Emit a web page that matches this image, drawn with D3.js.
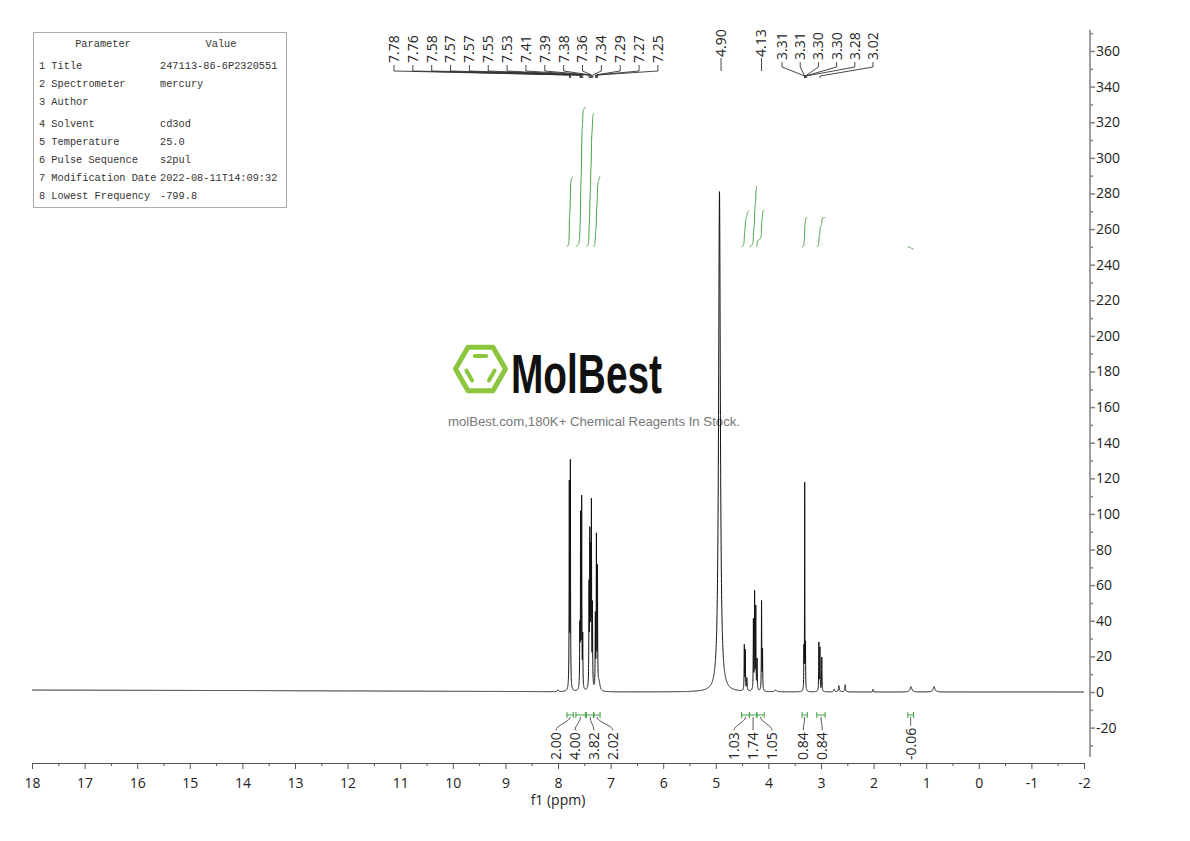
<!DOCTYPE html>
<html><head><meta charset="utf-8">
<script src="https://cdn.jsdelivr.net/npm/d3@7"></script>
<style>body{margin:0;background:#fff}svg{display:block}</style>
</head><body><svg id="c" width="1190" height="841"></svg>
<script>
// ---------------- data ----------------
const paramNames = ["1 Title","2 Spectrometer","3 Author","4 Solvent","5 Temperature","6 Pulse Sequence","7 Modification Date","8 Lowest Frequency"];
const paramValues = ["247113-86-6P2320551","mercury","","cd3od","25.0","s2pul","2022-08-11T14:09:32","-799.8"];

const peakPpm       = [8.00, 7.785, 7.765, 7.585, 7.570, 7.550, 7.530, 7.410, 7.395, 7.380, 7.365, 7.345, 7.290, 7.270, 7.250, 7.22, 4.93, 4.458, 4.440, 4.410, 4.285, 4.262, 4.240, 4.215, 4.130, 4.112, 3.86, 3.325, 3.310, 3.295, 3.040, 3.020, 2.985, 2.75, 2.66, 2.54, 2.01, 1.29, 0.85];
const peakHeight    = [1.0,  114,   126,   32,    95,    105,   28,    55,    82,    70,    100,   45,    40,    84,    66,    5,    281,  25,    22,    7,     39,    54,    46,    17,    50,    22,    1.0,  22,    116,   24,    27,    24,    19,    1.5,  3.5,  4,    1.5,  3,    3];
const peakHalfWidth = [0.01, 0.004, 0.004, 0.004, 0.004, 0.004, 0.004, 0.004, 0.004, 0.004, 0.004, 0.004, 0.004, 0.004, 0.004, 0.02, 0.02, 0.004, 0.004, 0.006, 0.004, 0.004, 0.004, 0.004, 0.004, 0.004, 0.02, 0.003, 0.003, 0.003, 0.004, 0.004, 0.004, 0.01, 0.01, 0.008, 0.005, 0.02, 0.02];

const baselinePpm = [18, 15, 12, 9, 8.1, 7.0, -2];
const baselineVal = [1.1, 0.9, 0.6, 0.3, 0.1, 0, 0];

const peakLabelPpm   = [7.78,7.76,7.58,7.57,7.57,7.55,7.53,7.41,7.39,7.38,7.36,7.34,7.29,7.27,7.25,4.90,4.13,3.31,3.31,3.30,3.30,3.28,3.02];
const peakLabelGroup = [0,0,0,0,0,0,0,0,0,0,0,0,0,0,0,1,2,3,3,3,3,3,3];

const integralFrom  = [7.83, 7.66, 7.46, 7.32, 4.51, 4.36, 4.22, 3.36, 3.08, 1.35];
const integralTo    = [7.71, 7.48, 7.32, 7.20, 4.36, 4.22, 4.08, 3.26, 2.92, 1.24];
const integralValue = [2.00, 4.00, 3.82, 2.02, 1.03, 1.74, 1.05, 0.84, 0.84, -0.06];
const integralGroup = [0, 0, 0, 0, 1, 1, 1, 2, 2, 3];

const xTickValues = [18,17,16,15,14,13,12,11,10,9,8,7,6,5,4,3,2,1,0,-1,-2];
const yTickValues = [-20,0,20,40,60,80,100,120,140,160,180,200,220,240,260,280,300,320,340,360];

// ---------------- layout ----------------
const svg = d3.select("#c");
const FONT = "'Open Sans', 'Noto Sans', sans-serif";
const x = d3.scaleLinear().domain([18, -2]).range([32, 1084]);
const y = d3.scaleLinear().domain([0, 360]).range([692, 51]);
const green = "#3f9f3f";

// ---------------- watermark ----------------
const wm = svg.append("g");
{
  const cx = 480.5, cy = 369, r = 25;
  const hex = d3.range(6).map(i => [cx + r*Math.cos(i*Math.PI/3), cy + r*Math.sin(i*Math.PI/3)]);
  wm.append("path").attr("d", "M" + hex.map(p => p.join(",")).join("L") + "Z")
    .attr("fill", "none").attr("stroke", "#8cc63e").attr("stroke-width", 5).attr("stroke-linejoin", "round");
  const ri = 15;
  const inner = d3.range(6).map(i => [cx + ri*Math.cos(i*Math.PI/3), cy + ri*Math.sin(i*Math.PI/3)]);
  [[4,5],[2,3],[0,1]].forEach(([a,b]) => {
    const p = inner[a], q = inner[b], s = 0.12;
    wm.append("line")
      .attr("x1", p[0] + (q[0]-p[0])*s).attr("y1", p[1] + (q[1]-p[1])*s)
      .attr("x2", q[0] - (q[0]-p[0])*s).attr("y2", q[1] - (q[1]-p[1])*s)
      .attr("stroke", "#8cc63e").attr("stroke-width", 4).attr("stroke-linecap", "round");
  });
  wm.append("text").attr("x", 511).attr("y", 393).text("MolBest")
    .attr("font-family", "'Liberation Sans', Arial, sans-serif").attr("font-size", 56).attr("font-weight", "bold")
    .attr("textLength", 151).attr("lengthAdjust", "spacingAndGlyphs").attr("fill", "#111");
  wm.append("text").attr("x", 448).attr("y", 426).text("molBest.com,180K+ Chemical Reagents In Stock.")
    .attr("font-family", "'Liberation Sans', Arial, sans-serif").attr("font-size", 12.5)
    .attr("textLength", 292).attr("lengthAdjust", "spacingAndGlyphs").attr("fill", "#777");
}

// ---------------- parameter table ----------------
{
  const g = svg.append("g");
  g.append("rect").attr("x", 33.5).attr("y", 32.5).attr("width", 253).attr("height", 175)
    .attr("fill", "#fff").attr("stroke", "#aaa").attr("stroke-width", 1);
  const mono = "'Liberation Mono', 'DejaVu Sans Mono', monospace";
  const put = (t, xx, yy, anchor) => {
    if (!t) return;
    g.append("text").attr("x", xx).attr("y", yy).text(t)
      .attr("font-family", mono).attr("font-size", 10.3).attr("fill", "#333")
      .attr("text-anchor", anchor || "start");
  };
  put("Parameter", 103, 47, "middle");
  put("Value", 221, 47, "middle");
  const rowY = [69, 87, 105, 127, 145, 163, 181, 199];
  paramNames.forEach((n, i) => { put(n, 39, rowY[i]); put(paramValues[i], 160, rowY[i]); });
}

// ---------------- spectrum ----------------
const baseline = d3.scaleLinear().domain(baselinePpm).range(baselineVal);
const nS = 20001;
const samples = d3.range(nS).map(i => {
  const p = 18 - i * 0.001;
  let v = 0;
  for (let k = 0; k < peakPpm.length; k++) {
    const d = p - peakPpm[k], g2 = peakHalfWidth[k] * peakHalfWidth[k];
    v += peakHeight[k] * g2 / (d*d + g2);
  }
  return { ppm: p, peak: v, val: v + baseline(p) };
});
svg.append("path").datum(samples)
  .attr("d", d3.line().x(d => x(d.ppm)).y(d => y(d.val)))
  .attr("fill", "none").attr("stroke", "#111").attr("stroke-width", 1);

// ---------------- integral curves ----------------
const integBase = 250, integUnit = 19.65;
integralFrom.forEach((f, i) => {
  const seg = samples.filter(s => s.ppm <= f && s.ppm >= integralTo[i]);
  let cum = 0;
  const c = seg.map(s => { cum += s.peak; return cum; });
  const tot = cum || 1;
  const pts = seg.map((s, j) => [x(s.ppm), y(integBase + c[j] / tot * integralValue[i] * integUnit)]);
  svg.append("path").attr("d", d3.line()(pts))
    .attr("fill", "none").attr("stroke", green).attr("stroke-width", 1);
});

// ---------------- axes ----------------
const xAxisG = svg.append("g").attr("transform", "translate(0,763)")
  .call(d3.axisBottom(x).tickValues(xTickValues).tickFormat(d => String(d)).tickSize(6).tickSizeOuter(6).tickPadding(9));
const xMinor = svg.append("g").attr("transform", "translate(0,763)")
  .call(d3.axisBottom(x).tickValues(xTickValues.slice(0, -1).map(v => v - 0.5)).tickFormat("").tickSize(3));
xMinor.select(".domain").remove();
[xAxisG, xMinor].forEach(g => {
  g.selectAll("path,line").attr("stroke", "#555");
  g.selectAll("text").attr("font-family", FONT).attr("font-size", 14).attr("fill", "#222");
});
svg.append("text").attr("x", x(8)).attr("y", 805).attr("text-anchor", "middle").text("f1 (ppm)")
  .attr("font-family", FONT).attr("font-size", 14).attr("fill", "#222");

const yAxisG = svg.append("g").attr("transform", "translate(1090,0)")
  .call(d3.axisRight(y).tickValues(yTickValues).tickFormat(d => String(d)).tickSize(5).tickPadding(1));
yAxisG.select(".domain").remove();
yAxisG.append("line").attr("x1", 0).attr("x2", 0).attr("y1", y(-36.5)).attr("y2", y(372));
const yMinorVals = d3.range(-30, 371, 20);
const yMinor = svg.append("g").attr("transform", "translate(1090,0)")
  .call(d3.axisRight(y).tickValues(yMinorVals).tickFormat("").tickSize(3));
yMinor.select(".domain").remove();
[yAxisG, yMinor].forEach(g => {
  g.selectAll("path,line").attr("stroke", "#808080").attr("stroke-width", 1.5);
  g.selectAll("text").attr("font-family", FONT).attr("font-size", 14).attr("fill", "#222");
});

// ---------------- peak labels ----------------
const groupLayout = {
  0: { x0: 394, dx: 18.85, textY: 63, stubTop: 65, stubBot: 71, diagY: 75, endY: 78 },
  3: { x0: 782, dx: 18.2,  textY: 60, stubTop: 62, stubBot: 67, diagY: 76, endY: 78 }
};
const counters = {};
peakLabelPpm.forEach((p, i) => {
  const gid = peakLabelGroup[i];
  const L = groupLayout[gid];
  const px = x(p);
  if (L) {
    const k = counters[gid] = (counters[gid] || 0) + 1;
    const lx = L.x0 + (k - 1) * L.dx;
    svg.append("text").attr("transform", `translate(${lx},${L.textY}) rotate(-90)`)
      .attr("dy", "0.35em").text(p.toFixed(2))
      .attr("font-family", FONT).attr("font-size", 14).attr("fill", "#222");
    svg.append("path").attr("d", `M${lx},${L.stubTop}V${L.stubBot}L${px},${L.diagY}V${L.endY}`)
      .attr("fill", "none").attr("stroke", "#333").attr("stroke-width", 0.9);
  } else {
    svg.append("text").attr("transform", `translate(${px},57) rotate(-90)`)
      .attr("dy", "0.35em").text(p.toFixed(2))
      .attr("font-family", FONT).attr("font-size", 14).attr("fill", "#222");
    svg.append("line").attr("x1", px).attr("x2", px).attr("y1", 58).attr("y2", 71)
      .attr("stroke", "#333").attr("stroke-width", 0.9);
  }
});

// ---------------- integral labels & marks ----------------
const groups = d3.group(d3.range(integralValue.length), i => integralGroup[i]);
groups.forEach(idx => {
  const centers = idx.map(i => (x(integralFrom[i]) + x(integralTo[i])) / 2);
  const gc = d3.mean(centers);
  idx.forEach((i, k) => {
    const lx = gc + (k - (idx.length - 1) / 2) * 19;
    const rx = centers[k];
    const t = svg.append("text").attr("transform", `translate(${lx},760) rotate(-90)`)
      .attr("dy", "0.35em").text(integralValue[i].toFixed(2))
      .attr("font-family", FONT).attr("font-size", 14).attr("fill", "#222");
    const len = t.node().getComputedTextLength();
    const top = 760 - len - 2;
    svg.append("path").attr("d", `M${lx},${top}C${lx},${top - 5} ${rx},${722} ${rx},717`)
      .attr("fill", "none").attr("stroke", "#444").attr("stroke-width", 0.9);
    const x1 = x(integralFrom[i]), x2 = x(integralTo[i]);
    svg.append("path").attr("d", `M${x1},712V718M${x1},715H${x2}M${x2},712V718`)
      .attr("fill", "none").attr("stroke", green).attr("stroke-width", 1);
  });
});
</script></body></html>
